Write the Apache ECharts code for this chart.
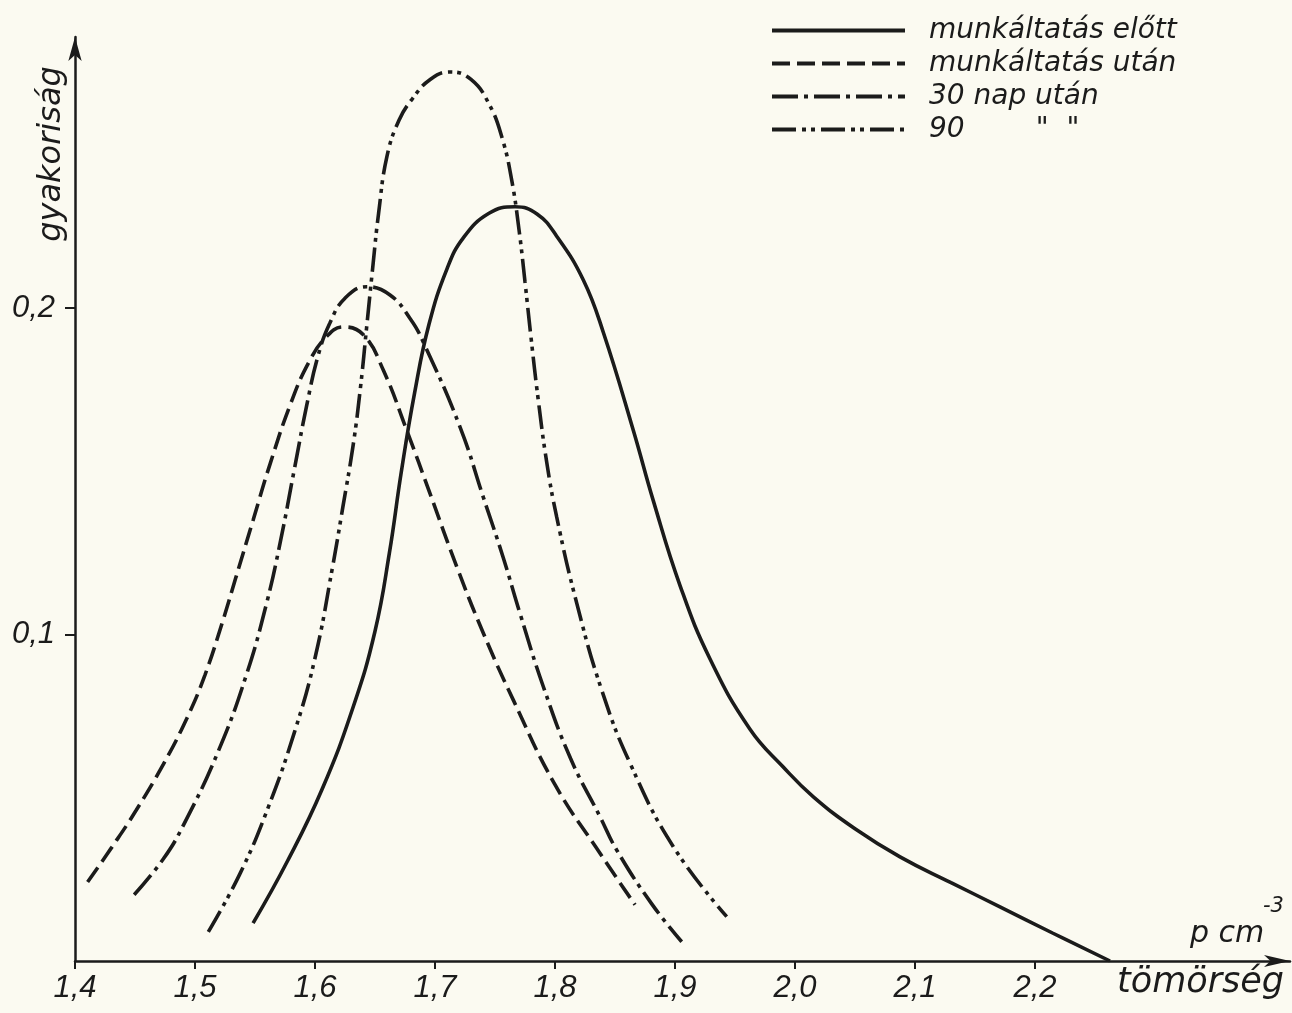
<!DOCTYPE html>
<html>
<head>
<meta charset="utf-8" />
<title>gyakoriság – tömörség</title>
<script src="https://cdn.jsdelivr.net/npm/echarts@6.0.0/dist/echarts.min.js"></script>
<style>
html, body { margin: 0; padding: 0; background: #fbfaf1; }
#container { width: 1292px; height: 1013px; }
</style>
</head>
<body>
<div id="container"></div>
<script>
// tömörség (x) -> gyakoriság (y)
var seriesNames = ['munkáltatás előtt', 'munkáltatás után', '30 nap után', '90        "  "'];

var munkaltatasElott = [
  [1.5484, 0.0116], [1.5772, 0.0307], [1.6059, 0.0526], [1.6318, 0.0778], [1.650, 0.101],
  [1.662, 0.125], [1.672, 0.150], [1.683, 0.174], [1.695, 0.195], [1.710, 0.212],
  [1.7236, 0.2215], [1.745, 0.229], [1.7667, 0.231], [1.785, 0.2288], [1.8014, 0.222],
  [1.8236, 0.2086], [1.8403, 0.1925], [1.8653, 0.1625], [1.8819, 0.141], [1.9042, 0.115],
  [1.9292, 0.0925], [1.9625, 0.071], [1.99, 0.0595], [2.0153, 0.0503], [2.05, 0.0405],
  [2.0875, 0.0319], [2.13, 0.024], [2.1708, 0.0166], [2.215, 0.0085], [2.2625, 0.0]
];
var munkaltatasUtan = [
  [1.4105, 0.0242], [1.4306, 0.0348], [1.4507, 0.046], [1.4737, 0.0603], [1.4938, 0.0748],
  [1.5082, 0.0875], [1.5226, 0.1035], [1.5341, 0.1175], [1.5484, 0.135], [1.5628, 0.1525],
  [1.58, 0.171], [1.595, 0.1835], [1.609, 0.191], [1.6236, 0.1942], [1.6403, 0.1918],
  [1.6569, 0.181], [1.6764, 0.1626], [1.6958, 0.1432], [1.7181, 0.1208], [1.7403, 0.1004],
  [1.7653, 0.0799], [1.80, 0.054], [1.8375, 0.033], [1.8667, 0.0172]
];
var nap30 = [
  [1.4493, 0.0203], [1.4737, 0.0313], [1.4909, 0.042], [1.5197, 0.0645], [1.5427, 0.0875],
  [1.5599, 0.1099], [1.5714, 0.1289], [1.5829, 0.1508], [1.593, 0.170], [1.6028, 0.1857],
  [1.6125, 0.1955], [1.625, 0.203], [1.6431, 0.2065], [1.6625, 0.204], [1.6792, 0.1968],
  [1.6903, 0.1895], [1.7208, 0.1636], [1.7403, 0.142], [1.7569, 0.1235], [1.7708, 0.1065],
  [1.7903, 0.084], [1.813, 0.062], [1.8375, 0.0442], [1.8514, 0.034], [1.8806, 0.0175],
  [1.9056, 0.0059]
];
var nap90 = [
  [1.5111, 0.0089], [1.5369, 0.0263], [1.5599, 0.046], [1.5829, 0.0701], [1.6002, 0.0931],
  [1.6145, 0.1204], [1.6232, 0.139], [1.6318, 0.158], [1.638, 0.176], [1.643, 0.194],
  [1.648, 0.212], [1.653, 0.229], [1.660, 0.2465], [1.670, 0.2575], [1.681, 0.264],
  [1.696, 0.270], [1.7125, 0.2723], [1.730, 0.270], [1.745, 0.2625], [1.756, 0.252],
  [1.764, 0.239], [1.770, 0.224], [1.775, 0.208], [1.780, 0.191], [1.786, 0.172],
  [1.793, 0.153], [1.8014, 0.136], [1.8181, 0.1096], [1.8389, 0.083], [1.8625, 0.0606],
  [1.8986, 0.035], [1.9431, 0.0136]
];

var xTicks = [1.4, 1.5, 1.6, 1.7, 1.8, 1.9, 2.0, 2.1, 2.2];
var yTicks = [0.1, 0.2];

var ink = '#1b1b1b';
var dashes = ['solid', [18, 7], [26, 6, 4, 6], [24, 6, 4, 5, 4, 6]];
var allData = [munkaltatasElott, munkaltatasUtan, nap30, nap90];

function comma(v) {
  return v.toFixed(1).replace('.', ',');
}

var dom = document.getElementById('container');
var myChart = echarts.init(dom, null, { renderer: 'canvas' });

var series = allData.map(function (d, i) {
  return {
    name: seriesNames[i],
    type: 'line',
    data: d,
    smooth: 0.45,
    symbol: 'none',
    silent: true,
    lineStyle: { color: ink, width: 3.6, type: dashes[i], cap: 'butt' },
    itemStyle: { color: ink }
  };
});

var option = {
  backgroundColor: '#fbfaf1',
  animation: false,
  grid: { left: 75, right: 2, top: 37, bottom: 52 },
  legend: {
    orient: 'vertical',
    left: 770,
    top: 16,
    padding: 0,
    itemWidth: 133,
    itemHeight: 14,
    itemGap: 4,
    selectedMode: false,
    data: seriesNames,
    itemStyle: { opacity: 0 },
    lineStyle: { width: 4 },
    textStyle: {
      color: ink,
      fontFamily: 'DejaVu Sans',
      fontStyle: 'italic',
      fontSize: 28,
      lineHeight: 29,
      padding: [0, 0, 0, 19]
    }
  },
  xAxis: {
    type: 'value',
    min: 1.4,
    max: 2.4125,
    splitLine: { show: false },
    axisLine: {
      onZero: false,
      symbol: ['none', 'arrow'],
      symbolSize: [9, 26],
      lineStyle: { color: ink, width: 2.5 }
    },
    axisTick: { show: true, length: 8, lineStyle: { color: ink, width: 2 }, customValues: xTicks },
    axisLabel: {
      customValues: xTicks,
      formatter: comma,
      margin: 12,
      color: ink,
      fontFamily: 'Liberation Sans',
      fontStyle: 'italic',
      fontSize: 31
    }
  },
  yAxis: {
    type: 'value',
    min: 0,
    max: 0.283,
    splitLine: { show: false },
    axisLine: {
      show: true,
      onZero: false,
      symbol: ['none', 'arrow'],
      symbolSize: [10, 24],
      lineStyle: { color: ink, width: 2.5 }
    },
    axisTick: { show: true, length: 10, lineStyle: { color: ink, width: 2 }, customValues: yTicks },
    axisLabel: {
      customValues: yTicks,
      formatter: comma,
      margin: 20,
      color: ink,
      fontFamily: 'Liberation Sans',
      fontStyle: 'italic',
      fontSize: 31
    }
  },
  graphic: [
    {
      type: 'text', x: 52, y: 154, rotation: Math.PI / 2,
      style: {
        text: 'gyakoriság', fill: ink, align: 'center', verticalAlign: 'middle',
        font: 'italic 32px "DejaVu Sans"'
      }
    },
    {
      type: 'text', x: 1117, y: 983,
      style: {
        text: 'tömörség', fill: ink, align: 'left', verticalAlign: 'middle',
        font: 'italic 35px "DejaVu Sans"'
      }
    },
    {
      type: 'text', x: 1190, y: 934,
      style: {
        text: 'p cm', fill: ink, align: 'left', verticalAlign: 'middle',
        font: 'italic 30px "DejaVu Sans"'
      }
    },
    {
      type: 'text', x: 1263, y: 907,
      style: {
        text: '-3', fill: ink, align: 'left', verticalAlign: 'middle',
        font: 'italic 21px "DejaVu Sans"'
      }
    }
  ],
  series: series
};

myChart.setOption(option);
</script>
</body>
</html>
